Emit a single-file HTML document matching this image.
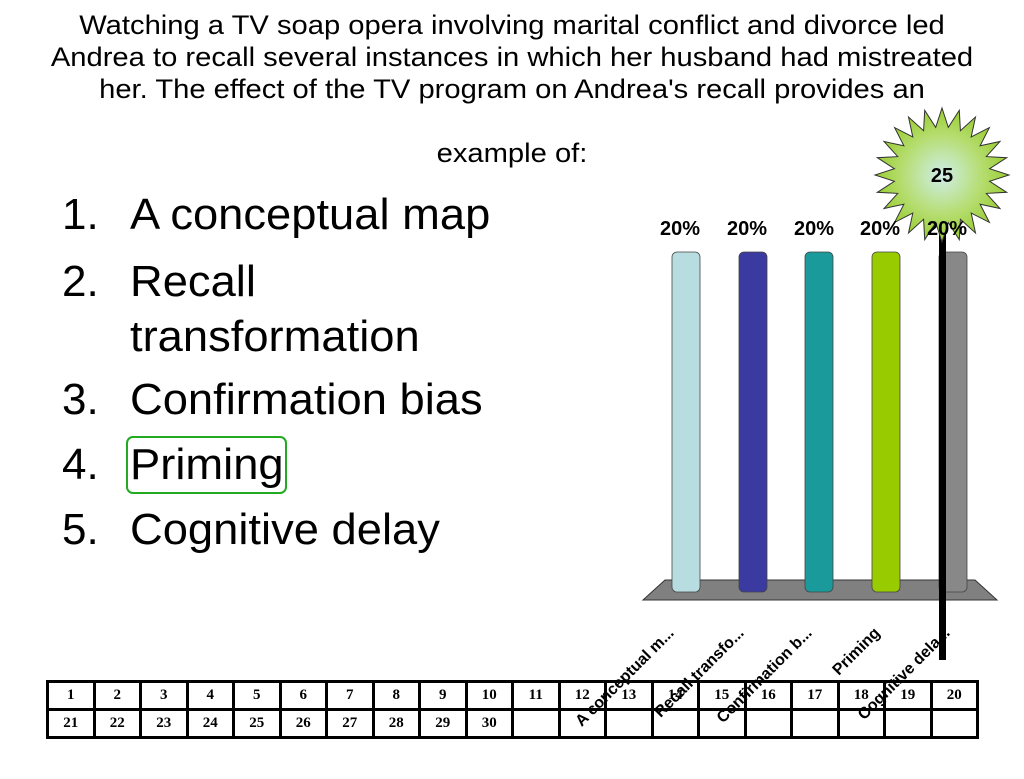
<!DOCTYPE html>
<html><head><meta charset="utf-8"><style>
body{margin:0;width:1024px;height:768px;background:#fff;position:relative;overflow:hidden;font-family:"Liberation Sans",sans-serif}
.t{position:absolute;left:0;width:1024px;text-align:center;font-size:27px;line-height:32px;top:9px;transform:scaleX(1.08);transform-origin:512px 0;white-space:nowrap}
.l{position:absolute;left:62px;font-size:44px;line-height:50px}
.l span{position:absolute;left:0}
.l div{position:absolute;left:68px;white-space:nowrap;transform:scaleX(1.03);transform-origin:0 0}
table{position:absolute;left:46px;top:680px;border-collapse:collapse;table-layout:fixed;width:933px;font-family:"Liberation Serif",serif;font-weight:bold;font-size:15px}
td{border:3px solid #000;height:25px;text-align:center;padding:0}
.pc{position:absolute;top:218px;font-size:20px;font-weight:bold}
.xl{position:absolute;font-size:16px;font-weight:bold;transform-origin:right center;transform:rotate(-45deg);white-space:nowrap;text-align:right;width:200px}
</style></head><body>
<div class="t">Watching a TV soap opera involving marital conflict and divorce led<br>Andrea to recall several instances in which her husband had mistreated<br>her. The effect of the TV program on Andrea's recall provides an<br><br>example of:</div>
<div class="l" style="top:190px"><span>1.</span><div>A conceptual map</div></div>
<div class="l" style="top:254px;line-height:55px"><span>2.</span><div>Recall<br>transformation</div></div>
<div class="l" style="top:375px"><span>3.</span><div>Confirmation bias</div></div>
<div class="l" style="top:440px"><span>4.</span><div>Priming</div></div>
<div class="l" style="top:505px"><span>5.</span><div>Cognitive delay</div></div>
<div style="position:absolute;left:126px;top:436px;width:157px;height:54px;border:2px solid #2a2;border-radius:7px"></div>
<svg width="1024" height="768" style="position:absolute;left:0;top:0">
<polygon points="665,580 975,580 997,600 643,600" fill="#808080" stroke="#333"/>
<g stroke="#444" stroke-width="0.8">
<rect x="672" y="252" width="28" height="340" rx="5" fill="#b8dde0"/>
<rect x="739" y="252" width="28" height="340" rx="5" fill="#3a3aa0"/>
<rect x="805" y="252" width="28" height="340" rx="5" fill="#1a9a9a"/>
<rect x="872" y="252" width="28" height="340" rx="5" fill="#99cc00"/>
<rect x="939" y="252" width="28" height="340" rx="5" fill="#888"/>
</g>
<rect x="939" y="210" width="7" height="450" fill="#000"/>
<defs><radialGradient id="g"><stop offset="0" stop-color="#cfeee8"/><stop offset="0.6" stop-color="#b5dd70"/><stop offset="1" stop-color="#9acd32"/></radialGradient></defs>
<polygon id="star" fill="url(#g)" stroke="#333" points=""/>
<text x="942" y="182" font-family="Liberation Sans" font-weight="bold" font-size="20" text-anchor="middle">25</text>
</svg>
<div class="pc" style="left:660px">20%</div>
<div class="pc" style="left:727px">20%</div>
<div class="pc" style="left:794px">20%</div>
<div class="pc" style="left:860px">20%</div>
<div class="pc" style="left:927px">20%</div>
<div class="xl" style="left:472px;top:622px">A conceptual m...</div>
<div class="xl" style="left:542px;top:622px">Recall transfo...</div>
<div class="xl" style="left:610px;top:622px">Confirmation b...</div>
<div class="xl" style="left:678px;top:622px">Priming</div>
<div class="xl" style="left:748px;top:622px">Cognitive dela...</div>
<table><tr><td>1</td><td>2</td><td>3</td><td>4</td><td>5</td><td>6</td><td>7</td><td>8</td><td>9</td><td>10</td><td>11</td><td>12</td><td>13</td><td>14</td><td>15</td><td>16</td><td>17</td><td>18</td><td>19</td><td>20</td></tr>
<tr><td>21</td><td>22</td><td>23</td><td>24</td><td>25</td><td>26</td><td>27</td><td>28</td><td>29</td><td>30</td><td></td><td></td><td></td><td></td><td></td><td></td><td></td><td></td><td></td><td></td></tr></table>
<script>
var p=[],n=24;for(var i=0;i<2*n;i++){var r=i%2?48:67,a=i*Math.PI/n-Math.PI/2;p.push((942+r*Math.cos(a)).toFixed(1)+","+(175+r*Math.sin(a)).toFixed(1));}
document.getElementById("star").setAttribute("points",p.join(" "));
</script>
</body></html>
